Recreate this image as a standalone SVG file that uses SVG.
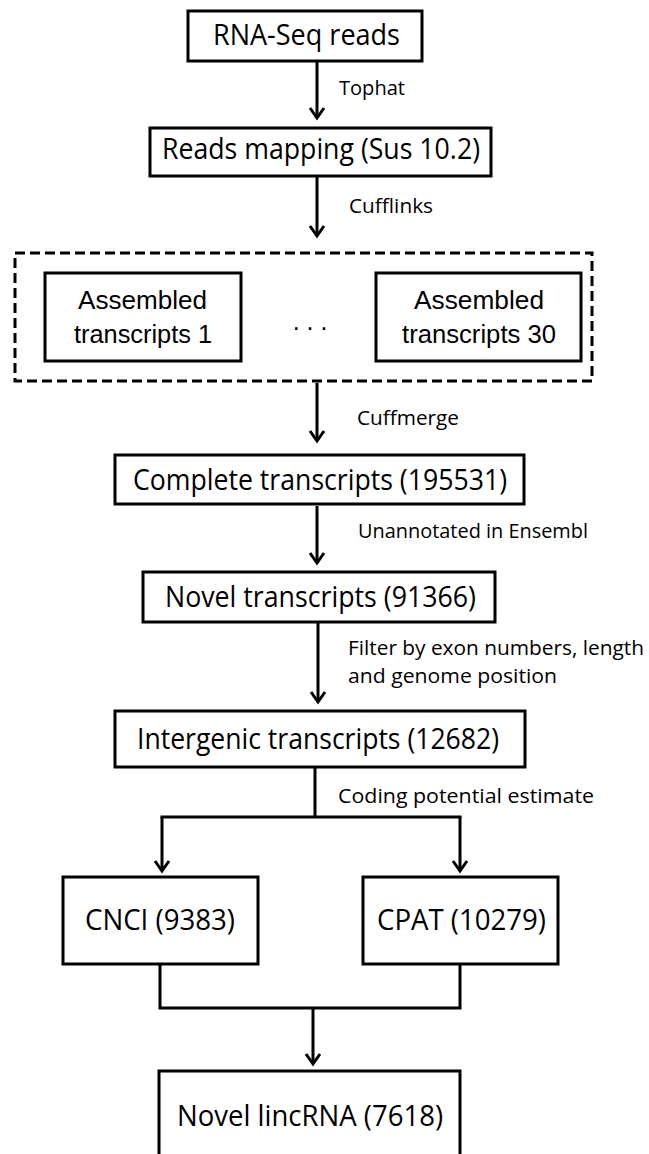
<svg xmlns="http://www.w3.org/2000/svg" width="649" height="1154" viewBox="0 0 649 1154">
<defs>
<style>
.box{fill:#fff;stroke:#000;stroke-width:3}
.dash{fill:none;stroke:#000;stroke-width:3;stroke-dasharray:10 5}
.t{font-family:"Open Sans","Noto Sans",sans-serif;font-size:29px;fill:#000}
.a{font-family:"Liberation Sans",Arial,sans-serif;font-size:25px;fill:#000}
.l{font-family:"Open Sans","Noto Sans",sans-serif;font-size:20px;fill:#000}
.c{fill:none;stroke:#000;stroke-width:3}
</style>
<marker id="ah" markerUnits="userSpaceOnUse" viewBox="-12 -9 14 18" refX="0" refY="0" markerWidth="14" markerHeight="18" orient="auto" overflow="visible">
<path d="M-10,-7 L0,0 L-10,7" fill="none" stroke="#000" stroke-width="3"/>
</marker>
</defs>
<rect width="649" height="1154" fill="#fff"/>
<g id="connectors">
<line class="c" x1="317" y1="62" x2="317" y2="118" marker-end="url(#ah)"/>
<line class="c" x1="317" y1="177" x2="317" y2="236" marker-end="url(#ah)"/>
<line class="c" x1="317" y1="383" x2="317" y2="441" marker-end="url(#ah)"/>
<line class="c" x1="317" y1="506" x2="317" y2="563" marker-end="url(#ah)"/>
<line class="c" x1="318" y1="623" x2="318" y2="702" marker-end="url(#ah)"/>
<polyline class="c" points="315,768 315,817"/>
<polyline class="c" points="160.5,817 461.5,817"/>
<line class="c" x1="162" y1="817" x2="162" y2="871" marker-end="url(#ah)"/>
<line class="c" x1="460" y1="817" x2="460" y2="871" marker-end="url(#ah)"/>
<polyline class="c" points="160,965 160,1008 460,1008 460,965"/>
<line class="c" x1="313" y1="1008" x2="313" y2="1064" marker-end="url(#ah)"/>
<text class="l" x="339" y="95" textLength="66" lengthAdjust="spacingAndGlyphs">Tophat</text>
<text class="l" x="349" y="213" textLength="84" lengthAdjust="spacingAndGlyphs">Cufflinks</text>
<text class="l" x="357" y="425" textLength="102" lengthAdjust="spacingAndGlyphs">Cuffmerge</text>
<text class="l" x="358" y="538" textLength="230" lengthAdjust="spacingAndGlyphs">Unannotated in Ensembl</text>
<text class="l" x="348" y="655" textLength="296" lengthAdjust="spacingAndGlyphs">Filter by exon numbers, length</text>
<text class="l" x="348" y="683" textLength="209" lengthAdjust="spacingAndGlyphs">and genome position</text>
<text class="l" x="338" y="803" textLength="256" lengthAdjust="spacingAndGlyphs">Coding potential estimate</text>
</g>
<g id="n-rnaseq">
<rect class="box" x="188" y="11" width="234" height="50"/>
<text class="t" x="213" y="45" textLength="187" lengthAdjust="spacingAndGlyphs">RNA-Seq reads</text>
</g>
<g id="n-mapping">
<rect class="box" x="150" y="128" width="341" height="48"/>
<text class="t" x="162" y="159" textLength="318" lengthAdjust="spacingAndGlyphs">Reads mapping (Sus 10.2)</text>
</g>
<g id="n-assembled-group">
<rect class="dash" x="15" y="253" width="577" height="128"/>
</g>
<g id="n-assembled1">
<rect class="box" x="45" y="273" width="196" height="88"/>
<text class="a" x="78" y="309" textLength="129" lengthAdjust="spacingAndGlyphs">Assembled</text>
<text class="a" x="74" y="343" textLength="138" lengthAdjust="spacingAndGlyphs">transcripts 1</text>
</g>
<g id="n-dots">
<text class="a" x="310" y="330" text-anchor="middle">. . .</text>
</g>
<g id="n-assembled30">
<rect class="box" x="376" y="273" width="205" height="88"/>
<text class="a" x="414" y="309" textLength="130" lengthAdjust="spacingAndGlyphs">Assembled</text>
<text class="a" x="402" y="343" textLength="154" lengthAdjust="spacingAndGlyphs">transcripts 30</text>
</g>
<g id="n-complete">
<rect class="box" x="115" y="455" width="409" height="49"/>
<text class="t" x="133" y="490" textLength="374" lengthAdjust="spacingAndGlyphs">Complete transcripts (195531)</text>
</g>
<g id="n-novel">
<rect class="box" x="143" y="572" width="352" height="50"/>
<text class="t" x="165" y="607" textLength="311" lengthAdjust="spacingAndGlyphs">Novel transcripts (91366)</text>
</g>
<g id="n-intergenic">
<rect class="box" x="115" y="711" width="410" height="56"/>
<text class="t" x="137" y="749" textLength="362" lengthAdjust="spacingAndGlyphs">Intergenic transcripts (12682)</text>
</g>
<g id="n-cnci">
<rect class="box" x="63" y="877" width="195" height="87"/>
<text class="t" x="85" y="930" textLength="150" lengthAdjust="spacingAndGlyphs">CNCI (9383)</text>
</g>
<g id="n-cpat">
<rect class="box" x="363" y="877" width="195" height="87"/>
<text class="t" x="377" y="930" textLength="169" lengthAdjust="spacingAndGlyphs">CPAT (10279)</text>
</g>
<g id="n-lincrna">
<rect class="box" x="159" y="1071" width="301" height="100"/>
<text class="t" x="177" y="1126" textLength="266" lengthAdjust="spacingAndGlyphs">Novel lincRNA (7618)</text>
</g>
</svg>
